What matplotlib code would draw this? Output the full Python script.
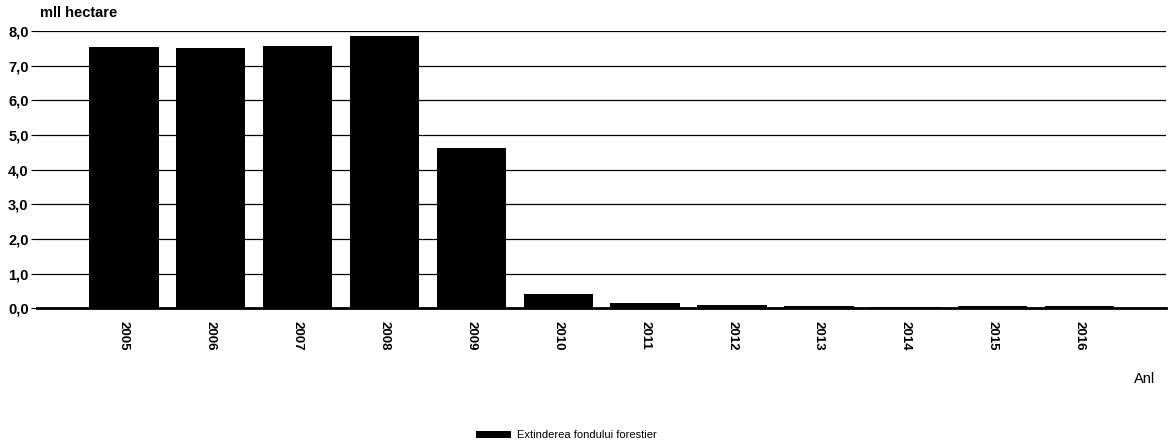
import matplotlib
matplotlib.use("Agg")
import matplotlib.pyplot as plt
import numpy as np

years = ["2005", "2006", "2007", "2008", "2009", "2010", "2011", "2012", "2013", "2014", "2015", "2016"]
values = [7.55, 7.52, 7.57, 7.87, 4.62, 0.42, 0.16, 0.08, 0.07, 0.02, 0.06, 0.05]
yticks = [0, 1, 2, 3, 4, 5, 6, 7, 8]
ytick_labels = ["0,0", "1,0", "2,0", "3,0", "4,0", "5,0", "6,0", "7,0", "8,0"]

plt.rcParams['font.family'] = ['Liberation Sans', 'DejaVu Sans']

fig = plt.figure(figsize=(11.7, 4.46), dpi=100)
ax = fig.add_axes([0.0316, 0.309, 0.9654, 0.621])

x = np.arange(len(years))
ax.bar(x, values, width=0.8, color="black", zorder=3, label="Extinderea fondului forestier")

ax.set_xlim(-1, 12)
ax.set_ylim(0, 8)
ax.set_yticks(yticks)
ax.set_yticklabels(ytick_labels, fontsize=10.5, fontweight='bold')
ax.set_xticks(x)
ax.set_xticklabels(years, rotation=270, fontsize=9.5, fontweight='bold')
ax.tick_params(axis='x', length=0, pad=9)
ax.tick_params(axis='y', length=4, width=0.8, pad=2)
ax.grid(axis='y', color='black', linewidth=0.9, zorder=0)
for s in ['top', 'right', 'left']:
    ax.spines[s].set_visible(False)
ax.spines['bottom'].set_linewidth(2)

fig.text(0.034, 0.955, "mll hectare", fontsize=10.5, fontweight='bold', ha='left', va='bottom')
fig.text(0.987, 0.15, "Anl", fontsize=10.5, ha='right', va='center')

leg = fig.legend(loc='lower center', bbox_to_anchor=(0.484, -0.01), frameon=False,
                 fontsize=8, handlelength=3.2, handleheight=0.7, handletextpad=0.5)

fig.savefig("out.png", dpi=100)
